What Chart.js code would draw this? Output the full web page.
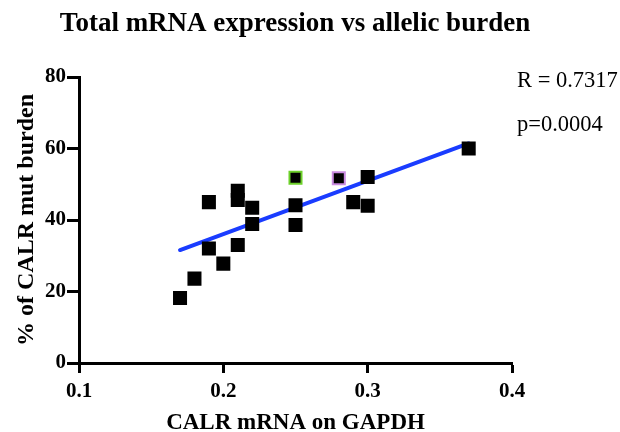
<!DOCTYPE html>
<html><head><meta charset="utf-8">
<script src="https://cdn.jsdelivr.net/npm/chart.js@4.4.1/dist/chart.umd.min.js"></script>
<style>html,body{margin:0;padding:0;background:#fff}canvas{display:block}</style>
</head><body>
<canvas id="c" width="620" height="432"></canvas>
<script>
const xValues = [0.17, 0.18, 0.19, 0.19, 0.20, 0.21, 0.21, 0.21, 0.22, 0.22, 0.25, 0.25, 0.25, 0.28, 0.29, 0.30, 0.30, 0.37];
const yValues = [18.2, 23.6, 45.0, 32.0, 27.8, 48.2, 45.6, 33.0, 43.4, 38.9, 51.8, 44.1, 38.6, 51.7, 45.0, 52.0, 44.0, 60.0];
const pointBorders = ['#000','#000','#000','#000','#000','#000','#000','#000','#000','#000','#6dd12a','#000','#000','#c98be0','#000','#000','#000','#000'];
const fitX = [0.17, 0.37];
const fitY = [31.6, 61.4];
const xTicks = [0.1, 0.2, 0.3, 0.4];
const yTicks = [0, 20, 40, 60, 80];
const chartTitle = 'Total mRNA expression vs allelic burden';
const statLabels = ['R = 0.7317', 'p=0.0004'];

const serif = "'Liberation Serif','Times New Roman',serif";

const textPlugin = {
  id: 'texts',
  afterDraw(chart) {
    const ctx = chart.ctx;
    ctx.save();
    ctx.fillStyle = '#000';
    ctx.textBaseline = 'middle';
    ctx.font = "bold 27px " + serif;
    ctx.textAlign = 'center';
    ctx.fillText(chartTitle, 295, 24);
    ctx.font = "22.5px " + serif;
    ctx.textAlign = 'left';
    ctx.fillText(statLabels[0], 517, 81);
    ctx.fillText(statLabels[1], 517, 125);
    ctx.restore();
  }
};

new Chart(document.getElementById('c'), {
  data: {
    datasets: [
      {
        type: 'scatter',
        data: xValues.map((x, i) => ({x, y: yValues[i]})),
        backgroundColor: '#000',
        borderColor: pointBorders,
        borderWidth: 2,
        pointStyle: 'rect',
        pointRadius: 8.5,
        order: 1
      },
      {
        type: 'line',
        data: fitX.map((x, i) => ({x, y: fitY[i]})),
        borderColor: '#1a3cff',
        borderWidth: 4,
        borderCapStyle: 'round',
        pointRadius: 0,
        fill: false,
        order: 2
      }
    ]
  },
  options: {
    responsive: false,
    animation: false,
    layout: {padding: {left: 0, right: 108, top: 77, bottom: 0}},
    plugins: {
      legend: {display: false},
      tooltip: {enabled: false},
      title: {display: false}
    },
    scales: {
      x: {
        type: 'linear',
        min: 0.1, max: 0.4,
        afterBuildTicks: s => { s.ticks = xTicks.map(v => ({value: v})); },
        afterFit: s => { s.height = 69; },
        border: {display: true, color: '#000', width: 3},
        grid: {display: true, drawOnChartArea: false, drawTicks: true, tickLength: 10, tickWidth: 3, tickColor: '#000'},
        ticks: {color: '#000', padding: 6, font: {family: serif, size: 21, weight: 'bold'}, callback: v => v.toFixed(1)},
        title: {display: true, text: 'CALR mRNA on GAPDH', color: '#000', font: {family: serif, size: 23, weight: 'bold', lineHeight: 0.8}, padding: {top: 0, bottom: 0}}
      },
      y: {
        type: 'linear',
        min: 0, max: 80,
        afterBuildTicks: s => { s.ticks = yTicks.map(v => ({value: v})); },
        afterFit: s => { s.width = 79; },
        border: {display: true, color: '#000', width: 3},
        grid: {display: true, drawOnChartArea: false, drawTicks: true, tickLength: 12, tickWidth: 3, tickColor: '#000'},
        ticks: {color: '#000', padding: 1, font: {family: serif, size: 21, weight: 'bold'}},
        title: {display: true, text: '% of CALR mut burden', color: '#000', font: {family: serif, size: 24, weight: 'bold'}, padding: {top: 12, bottom: 12}}
      }
    }
  },
  plugins: [textPlugin]
});
</script>
</body></html>
